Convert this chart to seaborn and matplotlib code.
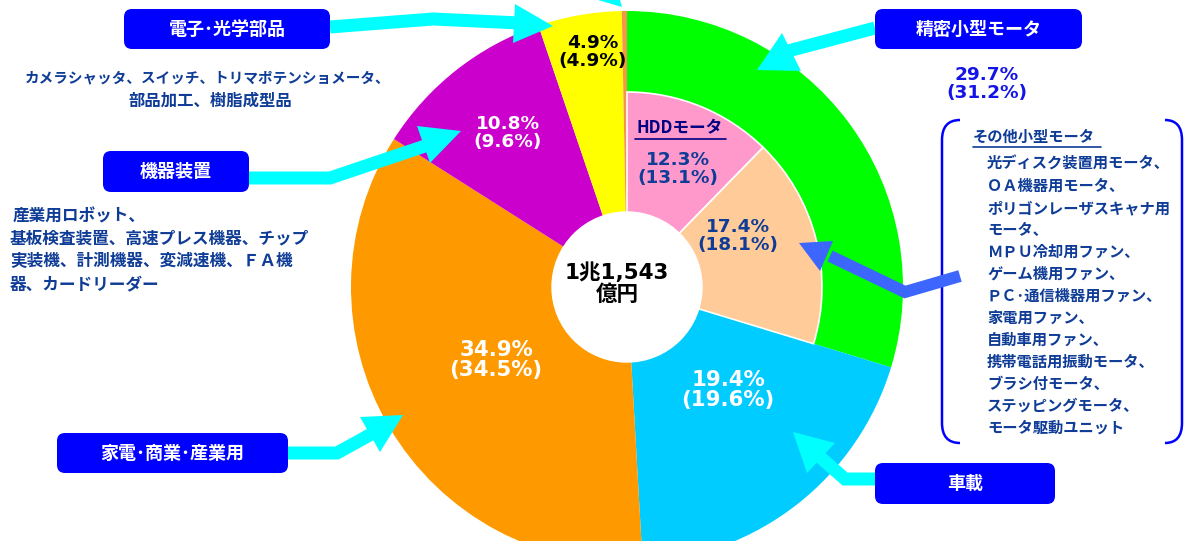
import matplotlib
matplotlib.use("Agg")
import matplotlib.pyplot as plt
import seaborn as sns
from matplotlib.patches import Circle, FancyBboxPatch, Polygon, PathPatch
from matplotlib.path import Path

# Data (share of sales, current year / previous year in parentheses)
SEGMENTS = ['精密小型モータ', '車載', '家電･商業･産業用', '機器装置', '電子･光学部品', 'その他']
SHARE = [29.7, 19.4, 34.9, 10.8, 4.9, 0.3]
SHARE_PREV = [31.2, 19.6, 34.5, 9.6, 4.9, None]
SEG_COLORS = ['#00FF00', '#00CCFF', '#FF9900', '#CC00CC', '#FFFF00', '#F79646']

SUB_SEGMENTS = ['HDDモータ', 'その他小型モータ']
SUB_SHARE = [12.3, 17.4]
SUB_PREV = [13.1, 18.1]
SUB_COLORS = ['#FF99CC', '#FFCC99']

TOTAL_LABEL = '1兆1,543\n億円'

OTHER_SMALL_MOTORS = [
    '光ディスク装置用モータ、', 'ＯＡ機器用モータ、', 'ポリゴンレーザスキャナ用',
    'モータ、', 'ＭＰＵ冷却用ファン、', 'ゲーム機用ファン、', 'ＰＣ･通信機器用ファン、',
    '家電用ファン、', '自動車用ファン、', '携帯電話用振動モータ、', 'ブラシ付モータ、',
    'ステッピングモータ、', 'モータ駆動ユニット',
]
ELEC_DESC = ['カメラシャッタ、スイッチ、トリマポテンショメータ、', '部品加工、樹脂成型品']
EQUIP_DESC = ['産業用ロボット、', '基板検査装置、高速プレス機器、チップ',
              '実装機、計測機器、変減速機、ＦＡ機', '器、カードリーダー']

W, H = 1184, 541
CX, CY = 627, 287
NAVY = '#0F3C96'
CYAN = '#00FFFF'
BOX_BLUE = '#0000FF'

sns.set_theme(style='white')
plt.rcParams['font.family'] = ['Noto Sans CJK JP', 'DejaVu Sans']
NUM_FONT = ['DejaVu Sans', 'Noto Sans CJK JP']

fig = plt.figure(figsize=(W / 100, H / 100), dpi=100)
ax = fig.add_axes([0, 0, 1, 1])

# outer ring (y axis is inverted below, so counterclock=True runs clockwise on screen)
ax.pie(SHARE, colors=SEG_COLORS, radius=276, center=(CX, CY), startangle=-90,
       counterclock=True, wedgeprops=dict(linewidth=0))

# inner breakdown of precision small motors
inner, _ = ax.pie(SUB_SHARE + [100 - sum(SUB_SHARE)], colors=SUB_COLORS + ['none'],
                  radius=195, center=(CX, CY), startangle=-90, counterclock=True,
                  wedgeprops=dict(edgecolor='white', linewidth=1.2))
inner[-1].set_visible(False)

ax.add_patch(Circle((CX, CY), 75, color='white', zorder=3))

ax.set_xlim(0, W)
ax.set_ylim(H, 0)
ax.set_aspect('equal')
ax.axis('off')


def pct(v, prev):
    return f'{v}%\n({prev}%)'


# percentage labels
ax.text(593, 52, pct(SHARE[4], SHARE_PREV[4]), ha='center', va='center', fontsize=13.3,
        weight='bold', color='black', family=NUM_FONT, linespacing=1.05, zorder=5)
ax.text(508, 133, pct(SHARE[3], SHARE_PREV[3]), ha='center', va='center', fontsize=13.3,
        weight='bold', color='white', family=NUM_FONT, linespacing=1.05, zorder=5)
ax.text(496, 360, pct(SHARE[2], SHARE_PREV[2]), ha='center', va='center', fontsize=15.3,
        weight='bold', color='white', family=NUM_FONT, linespacing=1.05, zorder=5)
ax.text(728, 390, pct(SHARE[1], SHARE_PREV[1]), ha='center', va='center', fontsize=15.3,
        weight='bold', color='white', family=NUM_FONT, linespacing=1.05, zorder=5)
ax.text(987, 84, pct(SHARE[0], SHARE_PREV[0]), ha='center', va='center', fontsize=13.3,
        weight='bold', color='#1414E6', family=NUM_FONT, linespacing=1.05, zorder=5)
ax.text(678, 169, pct(SUB_SHARE[0], SUB_PREV[0]), ha='center', va='center', fontsize=13.3,
        weight='bold', color=NAVY, family=NUM_FONT, linespacing=1.05, zorder=5)
ax.text(738, 236, pct(SUB_SHARE[1], SUB_PREV[1]), ha='center', va='center', fontsize=13.3,
        weight='bold', color=NAVY, family=NUM_FONT, linespacing=1.05, zorder=5)

ax.text(680, 128, SUB_SEGMENTS[0], ha='center', va='center', fontsize=12, weight='bold',
        color='#000080', zorder=5)
ax.plot([635, 726], [139, 139], color='#000080', lw=1.2, zorder=5)

ax.text(617, 284, TOTAL_LABEL, ha='center', va='center', fontsize=15.5, weight='bold',
        color='black', family=NUM_FONT, linespacing=1.1, zorder=5)


def block_arrow(points, head, color=CYAN, width=13):
    xs, ys = zip(*points)
    ax.plot(xs, ys, color=color, lw=width * 0.72, solid_joinstyle='miter',
            solid_capstyle='butt', zorder=4)
    ax.add_patch(Polygon(head, closed=True, facecolor=color, lw=0, zorder=4))


block_arrow([(330, 27), (433, 19), (520, 23)], [(515, 4), (513, 43), (553, 26)])
block_arrow([(875, 28), (788, 51)], [(782, 33), (801, 71), (757, 70)])
block_arrow([(249, 178), (330, 178), (425, 146)], [(417, 126), (430, 163), (461, 131)])
block_arrow([(288, 453), (337, 453), (375, 432)], [(360, 417), (380, 452), (403, 415)])
block_arrow([(875, 479), (845, 479), (820, 457)], [(807, 473), (835, 443), (793, 432)])
block_arrow([(960, 276), (905, 292), (830, 256)], [(820, 271), (833, 241), (799, 243)],
            color='#3D66FF', width=12)
ax.add_patch(Polygon([(598, 0), (620, 0), (622, 7)], closed=True, facecolor=CYAN, lw=0,
                     zorder=4))


def label_box(x0, y0, x1, y1, text):
    ax.add_patch(FancyBboxPatch((x0, y0), x1 - x0, y1 - y0,
                                boxstyle='round,pad=0,rounding_size=8',
                                facecolor=BOX_BLUE, edgecolor='none', zorder=6))
    ax.text((x0 + x1) / 2, (y0 + y1) / 2, text, ha='center', va='center', fontsize=13,
            weight='bold', color='white', zorder=7)


label_box(124, 9, 330, 49, SEGMENTS[4])
label_box(875, 9, 1082, 49, SEGMENTS[0])
label_box(103, 151, 249, 192, SEGMENTS[3])
label_box(57, 433, 288, 473, SEGMENTS[2])
label_box(875, 463, 1055, 504, SEGMENTS[1])

# descriptions
ax.text(208, 77, ELEC_DESC[0], ha='center', va='center', fontsize=10.5,
        weight='bold', color=NAVY)
ax.text(210, 101, ELEC_DESC[1], ha='center', va='center', fontsize=11.8,
        weight='bold', color=NAVY)
for i, line in enumerate(EQUIP_DESC):
    ax.text(10 + (3 if i == 0 else 0), 216 + i * 22.7, line, ha='left', va='center',
            fontsize=12, weight='bold', color=NAVY)

# bracket for other small motors
for verts in ([(960, 120), (942, 120), (942, 140), (942, 423), (942, 443), (960, 443)],
              [(1165, 120), (1182, 120), (1182, 140), (1182, 423), (1182, 443), (1165, 443)]):
    codes = [Path.MOVETO, Path.CURVE3, Path.CURVE3, Path.LINETO, Path.CURVE3, Path.CURVE3]
    ax.add_patch(PathPatch(Path(verts, codes), facecolor='none', edgecolor=BOX_BLUE, lw=1.8))

ax.text(973, 137, SUB_SEGMENTS[1], ha='left', va='center', fontsize=11, weight='bold',
        color=NAVY)
ax.plot([973, 1101], [147, 147], color=NAVY, lw=1.2)
for i, line in enumerate(OTHER_SMALL_MOTORS):
    ax.text(987, 164 + i * 22, line, ha='left', va='center', fontsize=11, weight='bold',
            color=NAVY)

fig.savefig('out.png', dpi=100)
